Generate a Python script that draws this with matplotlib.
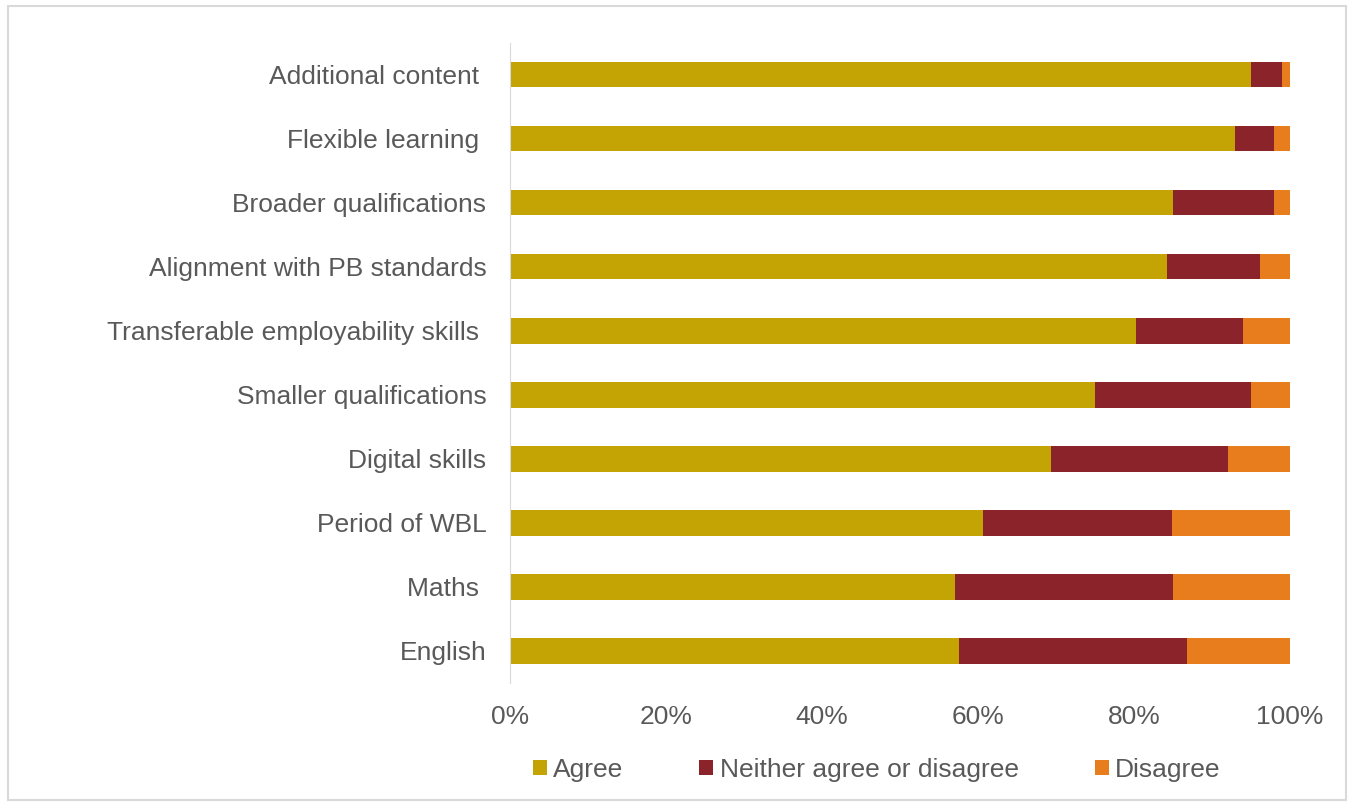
import matplotlib.pyplot as plt
import numpy as np

categories = ["Additional content ", "Flexible learning ", "Broader qualifications",
              "Alignment with PB standards", "Transferable employability skills ",
              "Smaller qualifications", "Digital skills", "Period of WBL", "Maths ", "English"]
agree = [95.0, 93.0, 85.0, 84.2, 80.2, 75.0, 69.3, 60.6, 57.0, 57.6]
neither = [4.0, 5.0, 13.0, 11.9, 13.8, 20.0, 22.8, 24.3, 28.0, 29.2]
disagree = [1.0, 2.0, 2.0, 3.9, 6.0, 5.0, 7.9, 15.1, 15.0, 13.2]
series_names = ["Agree", "Neither agree or disagree", "Disagree"]
colours = ["#C4A304", "#8B232B", "#E87D1E"]

plt.rcParams['font.family'] = ['Liberation Sans', 'DejaVu Sans']
text_col = "#595959"

fig = plt.figure(figsize=(13.54, 8.07), dpi=100)
ax = fig.add_axes([510/1354, 1 - 683/807, 780/1354, 640.5/807])

y = np.arange(len(categories))
left = np.zeros(len(categories))
for vals, name, col in zip([agree, neither, disagree], series_names, colours):
    ax.barh(y, vals, left=left, height=0.4, color=col, label=name)
    left = left + np.array(vals)

ax.set_ylim(len(categories) - 0.5, -0.5)
ax.set_xlim(0, 100)
ax.set_yticks(y)
ax.set_yticklabels(categories)
ax.set_xticks(np.arange(0, 101, 20))
ax.set_xticklabels([f"{v}%" for v in range(0, 101, 20)])
ax.tick_params(axis='both', length=0, labelsize=19, colors=text_col)
ax.tick_params(axis='y', pad=17)
ax.tick_params(axis='x', pad=16)
for s in ['top', 'right', 'bottom']:
    ax.spines[s].set_visible(False)
ax.spines['left'].set_color("#D9D9D9")

ax.legend(loc='center', bbox_to_anchor=(0.47, (683 - 770) / 640.5), ncol=3, frameon=False,
          fontsize=19, labelcolor=text_col, handlelength=0.53, handleheight=0.53,
          handletextpad=0.23, columnspacing=2.9)

border = plt.Rectangle((8/1354, 1 - 800/807), 1338/1354, 794/807, transform=fig.transFigure,
                       fill=False, edgecolor="#D9D9D9", linewidth=1.5)
fig.patches.append(border)

fig.savefig("out.png", dpi=100, facecolor="white")
